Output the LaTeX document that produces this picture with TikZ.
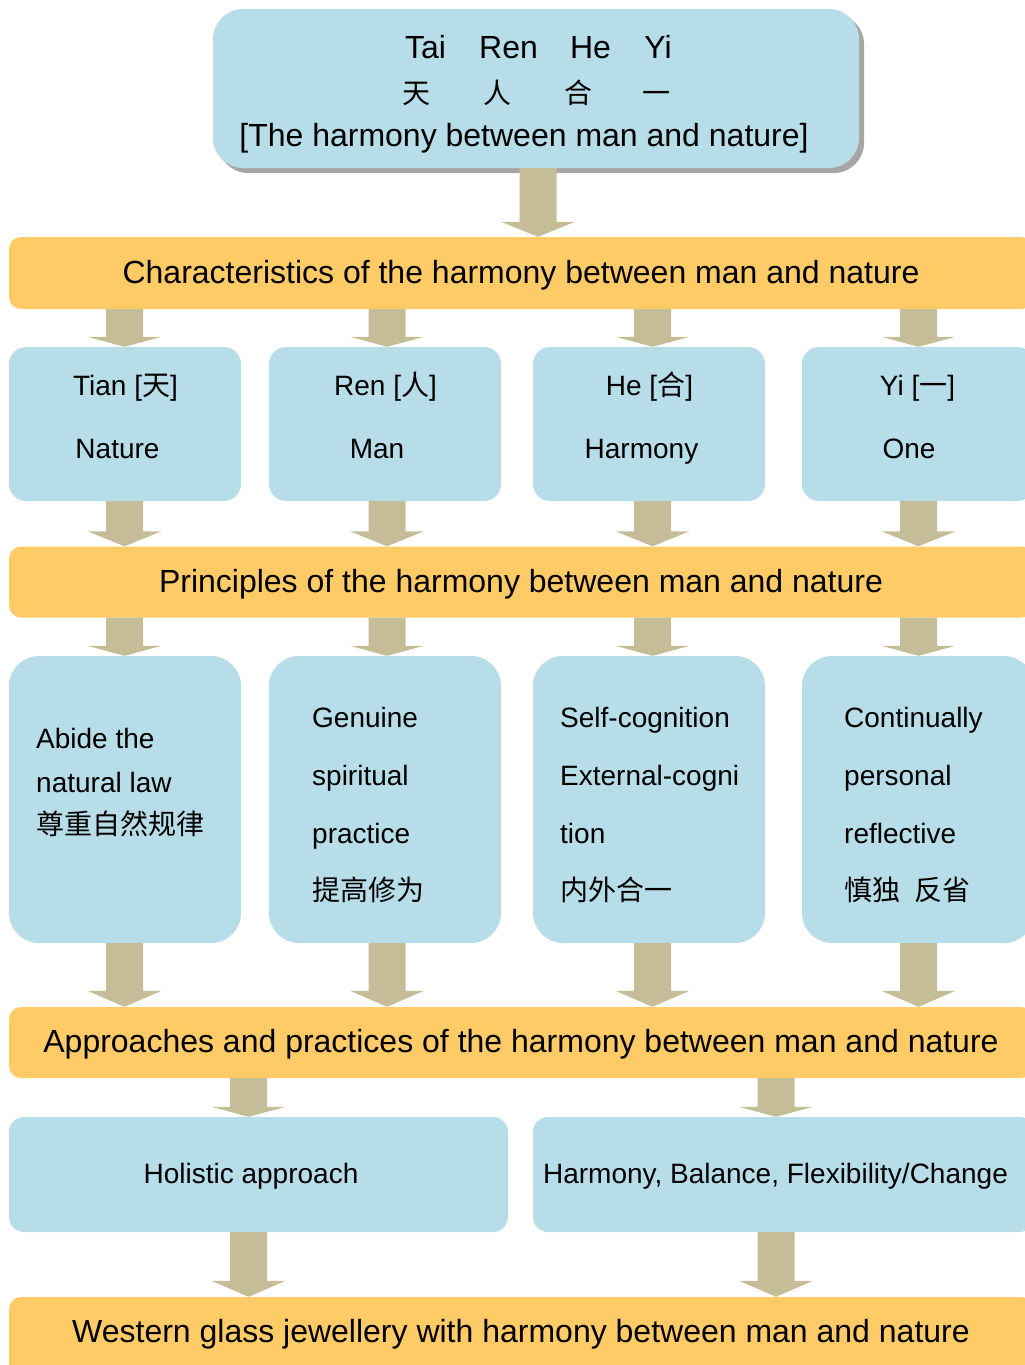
\documentclass[tikz,border=0pt]{standalone}
\usepackage{fontspec}
\setmainfont{Liberation Sans}
\newfontfamily\cjk{Noto Sans CJK SC}
\usetikzlibrary{calc,shadows}

\definecolor{boxblue}{HTML}{B7DDE8}
\definecolor{bandgold}{HTML}{FECB66}
\definecolor{arrowtan}{HTML}{C4BD97}
\definecolor{shadowgray}{HTML}{A6A6A6}

\tikzset{
  boxnode/.style={fill=boxblue, draw=none, inner sep=0pt, rounded corners=17pt},
  tallbox/.style={boxnode, rounded corners=30pt},
  bandnode/.style={fill=bandgold, draw=none, inner sep=0pt, rounded corners=12pt},
  txt/.style={inner sep=0pt, font=\fontsize{28}{34}\selectfont},
  bandtxt/.style={inner sep=0pt, font=\fontsize{32}{38}\selectfont},
  flowarrowfill/.style={fill=arrowtan},
}

% block arrow at horizontal position #1 from node #2 down to node #3, head length #4
\newcommand\flowarrow[4]{%
  \path let \p1=(#2.south), \p2=(#3.north), \p3=(#1,0) in
    coordinate (fas) at (\x3,\y1) coordinate (fae) at (\x3,\y2);
  \fill[flowarrowfill] ($(fas)+(-18.5,0)$) -- ($(fae)+(-18.5,-#4)$) -- ($(fae)+(-37,-#4)$)
    -- (fae) -- ($(fae)+(37,-#4)$) -- ($(fae)+(18.5,-#4)$) -- ($(fas)+(18.5,0)$) -- cycle;
}

\begin{document}
\begin{tikzpicture}[x=1pt,y=-1pt]
\useasboundingbox (0,0) rectangle (1025,1365);
\clip (0,0) rectangle (1025,1365);

% title box
\node[boxnode, rounded corners=30pt, minimum width=646pt, minimum height=159pt,
      drop shadow={shadow xshift=5pt, shadow yshift=-5pt, fill=shadowgray, opacity=1}]
      (top) at (536,88.5) {};
\node[bandtxt, anchor=base] (w1) at (425.5,58) {Tai};
\node[bandtxt, anchor=base] (w2) at (508.5,58) {Ren};
\node[bandtxt, anchor=base] (w3) at (590.5,58) {He};
\node[bandtxt, anchor=base] (w4) at (658,58) {Yi};
\node[txt, anchor=base, font=\fontsize{28}{34}\selectfont\cjk] (c1) at (416,103) {天};
\node[txt, anchor=base, font=\fontsize{28}{34}\selectfont\cjk] (c2) at (497,103) {人};
\node[txt, anchor=base, font=\fontsize{28}{34}\selectfont\cjk] (c3) at (578,103) {合};
\node[txt, anchor=base, font=\fontsize{28}{34}\selectfont\cjk] (c4) at (656,103) {一};
\node[bandtxt, anchor=base] (tsub) at (524,146) {[The harmony between man and nature]};

% horizontal bands
\node[bandnode, minimum width=1024pt, minimum height=72pt] (band1) at (521,273) {};
\node[bandtxt, anchor=base] (band1t) at (521,283) {Characteristics of the harmony between man and nature};
\node[bandnode, minimum width=1024pt, minimum height=71pt] (band2) at (521,582) {};
\node[bandtxt, anchor=base] (band2t) at (521,592) {Principles of the harmony between man and nature};
\node[bandnode, minimum width=1024pt, minimum height=71pt] (band3) at (521,1042.5) {};
\node[bandtxt, anchor=base] (band3t) at (521,1052) {Approaches and practices of the harmony between man and nature};
\node[bandnode, minimum width=1024pt, minimum height=83pt] (band4) at (521,1338.5) {};
\node[bandtxt, anchor=base] (band4t) at (521,1342) {Western glass jewellery with harmony between man and nature};

% first row: the four characters
\node[boxnode, minimum width=232pt, minimum height=154pt] (r1a) at (125,424) {};
\node[boxnode, minimum width=232pt, minimum height=154pt] (r1b) at (385,424) {};
\node[boxnode, minimum width=232pt, minimum height=154pt] (r1c) at (649,424) {};
\node[boxnode, minimum width=232pt, minimum height=154pt] (r1d) at (918,424) {};
\node[txt, anchor=base] (r1at) at (125.5,395) {Tian [{\cjk 天}]};
\node[txt, anchor=base] (r1as) at (117.5,458) {Nature};
\node[txt, anchor=base] (r1bt) at (385.5,395) {Ren [{\cjk 人}]};
\node[txt, anchor=base] (r1bs) at (377,458) {Man};
\node[txt, anchor=base] (r1ct) at (649.5,395) {He [{\cjk 合}]};
\node[txt, anchor=base] (r1cs) at (641.5,458) {Harmony};
\node[txt, anchor=base] (r1dt) at (917.5,395) {Yi [{\cjk 一}]};
\node[txt, anchor=base] (r1ds) at (909,458) {One};

% second row: principles
\node[tallbox, minimum width=232pt, minimum height=287pt] (r2a) at (125,799.5) {};
\node[tallbox, minimum width=232pt, minimum height=287pt] (r2b) at (385,799.5) {};
\node[tallbox, minimum width=232pt, minimum height=287pt] (r2c) at (649,799.5) {};
\node[tallbox, minimum width=232pt, minimum height=287pt] (r2d) at (918,799.5) {};

\node[txt, anchor=base west] (pa1) at (36,748) {Abide the};
\node[txt, anchor=base west] (pa2) at (36,792) {natural law};
\node[txt, anchor=base west] (pa3) at (36,834) {\cjk 尊重自然规律};

\node[txt, anchor=base west] (pb1) at (312,727) {Genuine};
\node[txt, anchor=base west] (pb2) at (312,785) {spiritual};
\node[txt, anchor=base west] (pb3) at (312,843) {practice};
\node[txt, anchor=base west] (pb4) at (312,900) {\cjk 提高修为};

\node[txt, anchor=base west] (pc1) at (560,727) {Self-cognition};
\node[txt, anchor=base west] (pc2) at (560,785) {External-cogni};
\node[txt, anchor=base west] (pc3) at (560,843) {tion};
\node[txt, anchor=base west] (pc4) at (560,900) {\cjk 内外合一};

\node[txt, anchor=base west] (pd1) at (844,727) {Continually};
\node[txt, anchor=base west] (pd2) at (844,785) {personal};
\node[txt, anchor=base west] (pd3) at (844,843) {reflective};
\node[txt, anchor=base west] (pd4) at (844,900) {\cjk 慎独\hspace{14pt}反省};

% third row: approaches
\node[boxnode, rounded corners=15pt, minimum width=499pt, minimum height=115pt] (b1) at (258.5,1174.5) {};
\node[boxnode, rounded corners=15pt, minimum width=501pt, minimum height=115pt] (b2) at (783.5,1174.5) {};
\node[txt, anchor=base] (b1t) at (251,1183) {Holistic approach};
\node[txt, anchor=base] (b2t) at (775.5,1183) {Harmony, Balance, Flexibility/Change};

% connectors
\flowarrow{538}{top}{band1}{15}
\foreach \cx/\ra/\rb in {124.5/r1a/r2a, 387/r1b/r2b, 652.5/r1c/r2c, 918.5/r1d/r2d} {
  \flowarrow{\cx}{band1}{\ra}{10}
  \flowarrow{\cx}{\ra}{band2}{15}
  \flowarrow{\cx}{band2}{\rb}{10}
  \flowarrow{\cx}{\rb}{band3}{16}
}
\flowarrow{248.5}{band3}{b1}{10}
\flowarrow{776}{band3}{b2}{10}
\flowarrow{248.5}{b1}{band4}{16}
\flowarrow{776}{b2}{band4}{16}
\end{tikzpicture}
\end{document}
